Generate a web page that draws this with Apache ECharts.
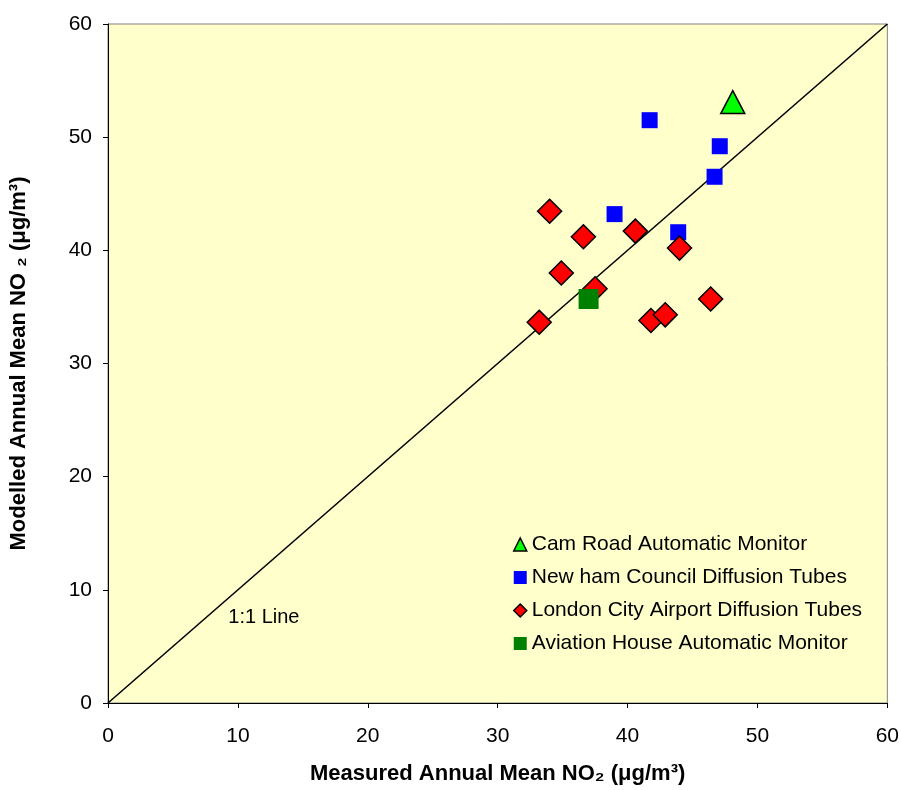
<!DOCTYPE html>
<html><head><meta charset="utf-8">
<script src="https://cdn.jsdelivr.net/npm/echarts@6/dist/echarts.min.js"></script>
<style>html,body{margin:0;padding:0;background:#fff}#c{width:902px;height:790px}</style>
</head><body><div id="c"></div>
<script>
const seriesNames = ['Cam Road Automatic Monitor','New ham Council Diffusion Tubes','London City Airport Diffusion Tubes','Aviation House Automatic Monitor'];
const camRoad = [[48.1, 53.1]];
const newham = [[41.7, 51.5],[47.1, 49.2],[46.7, 46.5],[39.0, 43.2],[43.9, 41.6]];
const londonCity = [[34.0, 43.45],[36.6, 41.2],[40.6, 41.7],[44.0, 40.2],[34.9, 38.0],[37.5, 36.6],[33.2, 33.65],[41.8, 33.8],[42.9, 34.3],[46.4, 35.7]];
const aviation = [[37.0, 35.7]];
const oneToOne = [[0,0],[60,60]];
const oneToOneLabelAt = [12, 7.6];

const chart = echarts.init(document.getElementById('c'));
const font = 'Arial, "Liberation Sans", sans-serif';
chart.setOption({
  animation: false,
  backgroundColor: '#ffffff',
  textStyle: {fontFamily: font},
  grid: {left: 108, top: 24, right: 14, bottom: 86, show: true, backgroundColor: '#FFFFCC', borderColor: '#808080', borderWidth: 1},
  xAxis: {
    type: 'value', min: 0, max: 60, interval: 10,
    name: 'Measured Annual Mean NO\u2082 (\u03bcg/m\u00b3)', nameLocation: 'middle', nameGap: 60,
    nameTextStyle: {fontSize: 22, fontWeight: 'bold', color: '#000', fontFamily: font},
    axisLine: {lineStyle: {color: '#000', width: 1}},
    axisTick: {show: true, length: 5, lineStyle: {color: '#000'}},
    axisLabel: {fontSize: 21, color: '#000', margin: 23, fontFamily: font},
    splitLine: {show: false}
  },
  yAxis: {
    type: 'value', min: 0, max: 60, interval: 10,
    name: 'Modelled Annual Mean NO \u2082 (\u03bcg/m\u00b3)', nameLocation: 'middle', nameGap: 78,
    nameTextStyle: {fontSize: 22, fontWeight: 'bold', color: '#000', fontFamily: font},
    axisLine: {lineStyle: {color: '#000', width: 1}},
    axisTick: {show: true, length: 5, lineStyle: {color: '#000'}},
    axisLabel: {fontSize: 21, color: '#000', margin: 16, fontFamily: font},
    splitLine: {show: false}
  },
  legend: {
    orient: 'vertical', left: 508, top: 529, itemGap: 12, itemWidth: 13, itemHeight: 13,
    textStyle: {fontSize: 21, color: '#000', fontFamily: font},
    data: [
      {name: seriesNames[0], icon: 'triangle', itemStyle: {color: '#00FF00', borderColor: '#000', borderWidth: 1.5}},
      {name: seriesNames[1], icon: 'rect', itemStyle: {color: '#0000FF', borderWidth: 0}},
      {name: seriesNames[2], icon: 'diamond', itemStyle: {color: '#FF0000', borderColor: '#000', borderWidth: 1.5}},
      {name: seriesNames[3], icon: 'rect', itemStyle: {color: '#008000', borderWidth: 0}}
    ]
  },
  series: [
    {type: 'line', data: oneToOne, symbol: 'none', silent: true, lineStyle: {color: '#000', width: 1.6}, z: 1,
     markPoint: {symbol: 'circle', symbolSize: 0, data: [{coord: oneToOneLabelAt, label: {show: true, formatter: '1:1 Line', fontSize: 20, color: '#000', fontFamily: font}}]}},
    {name: seriesNames[0], type: 'scatter', data: camRoad, symbol: 'triangle', symbolSize: [24, 23], itemStyle: {color: '#00FF00', borderColor: '#000', borderWidth: 1.5, opacity: 1}, z: 5},
    {name: seriesNames[1], type: 'scatter', data: newham, symbol: 'rect', symbolSize: 16, itemStyle: {color: '#0000FF', opacity: 1}, z: 2},
    {name: seriesNames[2], type: 'scatter', data: londonCity, symbol: 'diamond', symbolSize: 24, itemStyle: {color: '#FF0000', borderColor: '#000', borderWidth: 1.5, opacity: 1}, z: 3},
    {name: seriesNames[3], type: 'scatter', data: aviation, symbol: 'rect', symbolSize: 20, itemStyle: {color: '#008000', opacity: 1}, z: 4}
  ]
});
</script></body></html>
